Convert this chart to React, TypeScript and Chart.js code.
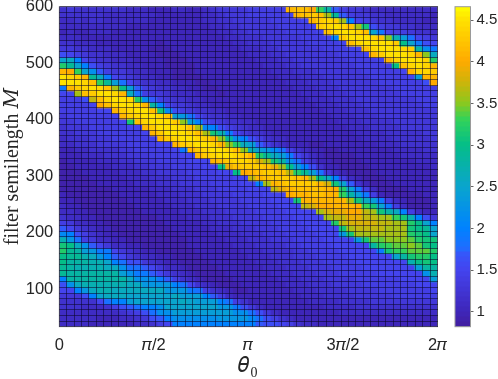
import React, { useEffect, useRef } from "react";
import { Chart, registerables } from "chart.js";

Chart.register(...registerables);

// Cell values in tenths; rows run from M = 600 (top) downward, columns from theta0 = 0 to 2*pi.
const cellTenths: number[][] = [
[12,13,12,12,12,12,12,12,12,11,11,11,10,10,10,11,11,10,10,11,12,13,13,13,13,14,14,14,14,14,41,42,42,40,33,28,17,14,13,13,12,11,11,11,11,11,11,11,11,11],
[12,12,12,12,12,12,11,11,11,11,11,11,11,10,10,10,10,10,10,11,11,12,13,13,13,14,14,14,14,14,15,41,42,43,42,36,29,17,14,13,13,12,12,11,11,11,11,11,11,10],
[11,11,12,11,12,12,11,11,11,11,11,11,10,10,10,10,10,10,10,11,11,12,12,13,13,13,13,13,14,14,14,14,15,41,43,44,43,36,20,15,14,13,12,12,11,11,11,11,10,10],
[11,11,11,11,11,11,11,11,11,10,10,10,10,10,10,10,10,10,10,10,11,11,12,12,13,13,13,13,13,14,14,14,14,15,43,44,45,44,42,36,31,16,14,13,13,12,12,11,11,11],
[10,11,10,10,11,11,11,10,10,10,10,10,10,10,10,10,10,10,10,10,10,11,11,12,12,13,13,13,13,13,14,14,14,14,15,42,44,45,45,44,42,25,19,15,14,14,13,12,12,11],
[11,11,11,10,10,10,10,10,10,10,10,10,10,10,10,10,10,10,10,10,10,10,11,11,12,12,12,13,13,13,13,13,14,14,14,15,20,43,45,45,45,44,42,35,27,24,18,15,14,13],
[12,12,11,11,11,10,10,10,10,10,10,10,10,9,10,10,10,10,10,10,10,10,10,11,11,12,12,12,13,13,13,13,13,14,14,14,14,15,42,44,45,45,45,45,43,30,25,19,16,15],
[13,13,12,12,11,11,11,10,10,10,10,10,9,9,9,10,10,10,10,10,10,10,10,10,11,11,11,12,12,13,13,13,13,13,13,14,14,14,15,15,42,44,45,45,45,44,43,28,22,19],
[16,15,14,13,12,12,11,11,11,10,10,10,10,9,9,9,10,10,10,10,10,10,10,10,10,11,11,11,12,12,13,13,13,13,13,13,13,14,14,14,15,41,43,45,45,45,44,41,35,26],
[25,26,20,15,13,12,12,11,11,11,10,10,10,10,9,9,9,10,10,10,10,10,10,10,10,10,11,11,11,12,12,13,13,13,13,13,13,13,14,14,14,14,15,41,44,45,45,45,44,32],
[32,29,25,20,16,14,13,12,12,11,11,10,10,10,9,9,9,9,10,10,10,10,10,10,10,10,10,11,11,11,12,12,13,13,13,13,13,13,13,14,14,14,14,14,30,42,44,45,44,41],
[41,40,33,25,22,17,14,13,13,12,11,11,10,10,10,9,9,9,10,10,10,10,10,10,10,10,10,10,11,11,11,12,12,12,13,13,13,13,13,13,14,14,14,14,14,15,41,44,44,43],
[45,44,43,41,29,26,19,15,14,13,12,11,11,10,10,9,9,9,9,10,10,10,10,10,10,10,10,10,10,11,11,11,12,12,12,13,13,13,13,13,13,14,14,14,14,14,15,24,41,41],
[45,45,45,44,42,33,29,24,18,15,13,12,12,11,11,10,10,10,9,9,10,10,10,10,10,10,10,10,10,10,11,11,11,12,12,12,13,13,13,13,13,13,14,14,14,14,14,14,16,40],
[19,41,43,44,45,44,42,36,30,24,17,14,13,12,12,11,11,10,10,9,9,10,10,10,10,10,10,10,10,10,10,11,11,11,12,12,12,13,13,13,13,13,13,13,14,14,14,14,14,14],
[15,15,36,42,43,45,45,44,41,26,18,14,13,13,12,11,11,11,10,10,10,9,10,10,10,10,10,10,10,10,10,10,11,11,11,12,12,12,13,13,13,13,13,13,13,14,14,14,14,14],
[14,14,14,16,37,42,44,45,45,44,32,22,17,14,13,12,12,11,11,10,10,10,10,10,10,10,10,10,10,10,10,10,10,11,11,11,12,12,12,13,13,13,13,13,13,13,13,14,14,14],
[14,14,14,14,15,40,42,44,45,45,44,41,28,20,15,13,13,12,11,11,10,10,10,10,10,10,10,10,10,10,10,10,10,10,11,11,11,12,12,12,13,13,13,13,13,13,13,13,14,14],
[14,14,14,14,14,15,15,41,43,44,45,45,42,31,21,16,14,13,12,12,11,11,10,10,10,10,10,10,10,10,10,10,10,10,10,11,11,11,12,12,12,13,13,13,13,13,13,13,13,13],
[13,14,14,14,14,14,14,15,41,43,44,45,45,44,42,24,23,18,15,13,12,12,11,11,10,10,10,10,10,10,10,10,10,10,10,10,11,11,11,12,12,12,13,13,13,13,13,13,13,13],
[13,13,14,14,14,14,14,14,15,31,42,44,45,45,45,43,35,24,20,16,14,13,12,12,11,11,10,10,10,10,10,10,10,10,10,10,10,11,11,11,12,12,12,12,13,13,13,13,13,13],
[12,13,13,13,14,14,14,14,14,15,15,41,43,45,45,45,44,42,36,21,20,16,14,13,12,11,11,10,10,10,10,10,10,10,10,10,10,10,11,11,11,12,12,12,12,13,13,13,13,13],
[12,12,13,13,13,14,14,14,14,14,14,15,41,43,45,45,45,44,42,36,31,27,19,15,13,12,12,11,10,10,10,10,10,10,10,10,10,10,10,11,11,11,11,12,12,12,12,12,13,13],
[11,12,12,12,13,13,13,14,14,14,14,14,15,41,43,44,45,45,44,43,41,35,29,22,20,16,14,12,11,11,10,10,10,10,10,10,10,10,10,10,11,11,11,11,12,12,12,12,12,13],
[11,11,12,12,12,13,13,13,13,14,14,14,14,15,15,41,43,44,45,45,44,41,35,32,26,24,17,14,12,11,10,10,10,9,9,10,10,10,10,10,10,10,11,11,11,12,12,12,12,12],
[10,10,11,11,12,12,12,12,13,13,14,14,14,14,14,15,19,41,43,44,45,45,44,42,35,27,24,23,21,18,14,12,11,10,10,9,9,10,10,10,10,10,10,10,11,11,11,11,12,12],
[10,10,10,11,11,11,12,12,12,13,13,13,14,14,14,14,15,15,41,43,44,45,45,44,43,41,32,29,26,24,19,15,13,11,10,9,9,9,9,10,10,10,10,10,10,11,11,11,11,11],
[9,10,10,10,10,11,11,11,12,12,13,13,13,14,14,14,14,15,15,15,41,42,43,44,44,43,38,36,31,28,22,18,14,12,10,10,9,9,9,9,10,10,10,10,10,10,10,11,11,11],
[9,9,10,10,10,10,10,11,11,11,12,12,13,13,13,14,14,14,14,15,15,30,39,42,43,43,43,42,39,36,30,24,20,16,12,10,10,9,9,9,9,10,10,10,10,10,10,10,10,11],
[9,9,9,10,10,10,10,10,11,11,11,12,12,13,13,13,13,14,14,14,14,15,15,30,40,41,42,43,43,42,37,32,29,24,18,13,11,10,9,9,9,9,10,10,10,10,10,10,10,10],
[9,9,9,9,10,10,10,10,10,11,11,11,12,12,12,13,13,13,14,14,14,14,14,15,15,37,41,42,43,43,43,42,41,36,30,26,20,14,11,10,9,9,9,10,10,10,10,10,10,10],
[9,9,9,9,9,10,10,10,10,10,11,11,11,12,12,12,13,13,13,13,14,14,14,14,15,15,20,36,41,42,43,43,43,43,41,38,31,25,17,12,10,9,9,9,10,10,10,10,10,10],
[9,9,9,9,9,9,9,10,10,10,10,10,11,11,11,12,12,12,13,13,13,14,14,14,14,15,15,15,37,39,41,42,42,42,42,41,40,32,25,19,14,11,9,9,9,9,10,10,10,10],
[10,9,9,9,9,9,9,9,10,10,10,10,10,11,11,11,12,12,12,13,13,13,13,14,14,14,14,15,15,15,40,41,41,42,42,41,41,33,28,24,19,14,10,9,9,9,9,9,10,10],
[10,10,9,9,9,9,9,9,9,10,10,10,10,10,11,11,11,12,12,12,13,13,13,13,14,14,14,14,15,15,15,31,41,41,41,41,41,41,36,31,26,24,19,14,11,10,9,9,9,10],
[11,10,10,9,9,9,9,9,9,9,10,10,10,10,10,11,11,11,12,12,12,13,13,13,13,14,14,14,14,15,15,15,37,38,40,40,41,41,41,40,33,31,25,19,14,11,9,9,9,10],
[11,11,10,10,9,9,9,9,9,9,9,10,10,10,10,10,11,11,11,12,12,12,13,13,13,13,14,14,14,14,15,15,15,15,36,38,39,39,40,40,37,36,31,28,26,20,14,11,10,10],
[12,11,11,10,10,9,9,9,9,9,9,9,9,10,10,10,10,11,11,11,12,12,12,13,13,13,13,14,14,14,14,15,15,15,15,36,37,37,39,39,37,37,36,36,33,31,27,20,16,13],
[14,13,11,11,10,10,9,9,9,9,9,9,9,9,10,10,10,10,10,11,11,12,12,12,13,13,13,13,14,14,14,14,15,15,15,15,32,37,38,38,38,38,37,37,36,36,32,30,25,20],
[17,15,13,12,11,10,10,9,9,9,9,9,9,9,9,10,10,10,10,10,11,11,11,12,12,12,13,13,13,14,14,14,14,15,15,15,15,31,36,37,37,37,37,36,36,36,31,30,29,25],
[21,20,16,14,12,11,10,10,9,9,9,9,9,9,9,9,10,10,10,10,10,11,11,11,12,12,12,13,13,13,14,14,14,14,15,15,15,23,31,36,36,36,36,36,36,36,32,31,30,25],
[27,23,18,14,13,11,11,10,10,9,9,9,9,9,9,9,9,10,10,10,10,10,11,11,11,12,12,12,13,13,13,14,14,14,14,15,15,15,15,23,31,34,34,35,35,35,34,32,31,31],
[31,30,26,22,17,15,13,11,11,10,10,9,9,9,9,9,9,10,10,10,10,10,10,11,11,11,12,12,12,12,13,13,14,14,14,14,15,15,15,15,15,28,32,33,34,34,35,34,31,30],
[32,29,28,24,23,19,19,15,13,12,11,10,10,9,9,9,9,9,10,10,10,10,10,10,11,11,11,12,12,12,12,13,13,14,14,14,14,15,15,15,15,15,19,31,33,33,34,34,34,32],
[30,29,29,27,26,23,20,17,15,13,12,11,11,10,10,9,9,9,9,10,10,10,10,10,10,11,11,11,12,12,12,13,13,13,14,14,14,14,15,15,15,15,15,15,25,28,31,32,32,30],
[30,28,28,28,27,27,25,20,18,16,16,13,12,11,10,10,9,9,9,9,10,10,10,10,10,10,11,11,11,12,12,12,13,13,13,14,14,14,14,15,15,15,15,15,15,15,27,30,31,30],
[29,28,27,27,27,27,26,26,22,18,18,17,15,13,11,11,10,9,9,9,9,10,10,10,10,10,10,11,11,11,12,12,12,13,13,13,14,14,14,14,15,15,15,15,15,15,15,24,28,28],
[29,28,28,28,28,28,28,28,24,22,19,19,17,15,13,12,11,10,9,9,9,9,10,10,10,10,10,10,11,11,11,12,12,12,13,13,13,14,14,14,14,14,15,15,15,15,15,15,22,27],
[20,28,28,28,28,28,28,28,28,26,22,22,22,19,17,14,12,11,10,9,9,9,9,10,10,10,10,10,10,11,11,11,12,12,12,13,13,13,13,14,14,14,14,14,14,15,15,15,15,24],
[16,22,26,27,27,27,27,27,27,26,26,23,23,23,23,20,18,15,12,11,10,9,9,9,10,10,10,10,10,10,11,11,11,12,12,12,13,13,13,13,14,14,14,14,14,14,14,15,15,15],
[15,15,20,23,26,27,27,26,26,26,26,26,26,26,23,23,23,19,18,14,12,11,10,9,9,10,10,10,10,10,10,11,11,11,12,12,12,12,13,13,13,13,14,14,14,14,14,14,14,15],
[13,13,13,16,20,25,26,26,26,25,25,25,25,25,25,26,24,24,24,20,17,14,11,10,10,10,10,10,10,10,10,10,11,11,11,12,12,12,12,13,13,13,13,13,14,14,14,14,14,14],
[12,12,12,12,12,15,18,20,20,24,25,25,25,25,25,25,26,25,24,24,24,20,18,14,12,10,10,10,10,10,10,10,10,11,11,11,11,12,12,12,12,13,13,13,13,13,13,13,13,13],
[12,12,12,11,11,11,12,14,16,17,18,20,20,22,25,25,25,25,25,25,25,23,23,19,16,13,11,10,10,10,10,10,10,10,10,11,11,11,11,12,12,12,12,12,12,12,12,12,12,12],
[11,11,11,11,11,11,11,11,12,13,14,16,18,22,22,24,24,24,24,24,24,24,24,22,22,18,16,13,11,10,10,10,10,10,10,10,10,11,11,11,11,11,11,11,11,11,11,11,11,11],
[11,11,11,11,11,10,10,10,11,11,12,13,16,17,20,22,22,22,22,22,22,23,23,23,23,21,18,16,14,12,11,10,10,10,10,10,10,10,10,10,10,10,10,10,10,10,10,10,10,10],
[11,11,11,11,10,10,10,10,10,10,11,11,12,14,15,20,20,20,20,20,20,20,20,20,20,20,17,16,16,15,14,12,11,11,10,10,10,10,10,10,10,10,10,10,10,10,10,10,10,10],
];

const xTickLabels = ["0", "\u{1D70B}/2", "\u{1D70B}", "3\u{1D70B}/2", "2\u{1D70B}"];
const xTickValues = [0, Math.PI / 2, Math.PI, (3 * Math.PI) / 2, 2 * Math.PI];
const yTickValues = [100, 200, 300, 400, 500, 600];
const colorTickValues = [1, 1.5, 2, 2.5, 3, 3.5, 4, 4.5];
const M_TOP = 600;
const M_BOTTOM = 33.3;
const COLOR_MIN = 0.82;
const COLOR_MAX = 4.66;

const colorStops: [number, number, number, number][] = [
  [0, 65, 30, 160],
  [0.047, 62, 38, 185],
  [0.177, 68, 68, 238],
  [0.225, 55, 85, 250],
  [0.245, 30, 110, 255],
  [0.307, 0, 130, 255],
  [0.4375, 10, 165, 205],
  [0.568, 5, 190, 135],
  [0.646, 50, 210, 90],
  [0.698, 140, 200, 30],
  [0.763, 205, 180, 10],
  [0.828, 255, 170, 0],
  [0.958, 255, 225, 0],
  [1, 255, 255, 0],
];

function colorFor(v: number): string {
  const t = Math.min(1, Math.max(0, (v - COLOR_MIN) / (COLOR_MAX - COLOR_MIN)));
  for (let i = 1; i < colorStops.length; i++) {
    const a = colorStops[i - 1];
    const b = colorStops[i];
    if (t <= b[0]) {
      const f = (t - a[0]) / (b[0] - a[0]);
      return `rgb(${Math.round(a[1] + (b[1] - a[1]) * f)},${Math.round(a[2] + (b[2] - a[2]) * f)},${Math.round(a[3] + (b[3] - a[3]) * f)})`;
    }
  }
  return "rgb(255,255,0)";
}

const SANS = "'Liberation Sans', Arial, sans-serif";
const SERIF = "'Liberation Serif', 'DejaVu Serif', serif";
const TEXT = "#262626";

const frame = (color: string) => ({
  id: "frame",
  afterDatasetsDraw(chart: any) {
    const { left, top, width, height } = chart.chartArea;
    const { ctx } = chart;
    ctx.save();
    ctx.strokeStyle = color;
    ctx.lineWidth = 1;
    ctx.strokeRect(left, top, width, height);
    ctx.restore();
  },
});

const thetaLabel = {
  id: "thetaLabel",
  afterDraw(chart: any) {
    const { ctx, chartArea } = chart;
    const cx = (chartArea.left + chartArea.right) / 2;
    ctx.save();
    ctx.fillStyle = TEXT;
    ctx.textBaseline = "alphabetic";
    ctx.textAlign = "left";
    ctx.font = `22px ${SERIF}`;
    ctx.fillText("\u{1D703}", cx - 10, 372);
    ctx.font = `14px ${SERIF}`;
    ctx.fillText("0", cx + 2, 377);
    ctx.restore();
  },
};

const noPadding = (s: any) => {
  s.paddingTop = 0;
  s.paddingBottom = 0;
  s.paddingLeft = 0;
  s.paddingRight = 0;
};

export default function App() {
  const mainRef = useRef<HTMLCanvasElement>(null);
  const barRef = useRef<HTMLCanvasElement>(null);

  useEffect(() => {
    const nRows = cellTenths.length;
    const nCols = cellTenths[0].length;
    const rowStep = (M_TOP - M_BOTTOM) / nRows;
    const colStep = (2 * Math.PI) / nCols;

    const datasets = cellTenths.map((row, r) => ({
      data: row.map((_, c) => ({
        x: (c + 0.5) * colStep,
        y: [M_TOP - (r + 1) * rowStep, M_TOP - r * rowStep],
      })),
      backgroundColor: row.map((v) => colorFor(v / 10)),
      borderWidth: 0,
      barPercentage: 1,
      categoryPercentage: 1,
      grouped: false,
      inflateAmount: 0.4,
    }));

    const hiddenAxis = (n: number, lo: number, step: number, min: number, max: number, position: string) => ({
      type: "linear",
      position,
      min,
      max,
      border: { display: false },
      grid: { display: true, z: 1, drawTicks: false, color: "rgba(10,5,40,0.55)", lineWidth: 1 },
      ticks: { display: false, autoSkip: false },
      afterBuildTicks: (s: any) => {
        s.ticks = Array.from({ length: n + 1 }, (_, i) => ({ value: lo + i * step }));
      },
      afterFit: (s: any) => {
        noPadding(s);
        if (position === "top") s.height = 0;
        else s.width = 0;
      },
    });

    const main = new Chart(mainRef.current as HTMLCanvasElement, {
      type: "bar",
      data: { datasets: datasets as any },
      plugins: [frame("rgba(150,150,150,0.8)"), thetaLabel],
      options: {
        animation: false,
        responsive: false,
        events: [],
        layout: { padding: { left: 0, right: 60.5, top: 6.7, bottom: 0 } },
        plugins: { legend: { display: false }, tooltip: { enabled: false } },
        scales: {
          x: {
            type: "linear",
            offset: false,
            min: 0,
            max: 2 * Math.PI,
            grid: { display: false, drawTicks: false },
            border: { display: false },
            afterBuildTicks: (s: any) => {
              s.ticks = xTickValues.map((value) => ({ value }));
            },
            afterFit: (s: any) => {
              noPadding(s);
              s.height = 52.3;
            },
            ticks: {
              autoSkip: false,
              maxRotation: 0,
              padding: 9,
              color: TEXT,
              font: { family: SANS, size: 16.5 },
              callback: (v: any) => {
                const i = xTickValues.findIndex((t) => Math.abs(t - Number(v)) < 1e-6);
                return i >= 0 ? xTickLabels[i] : "";
              },
            },
          },
          y: {
            type: "linear",
            min: M_BOTTOM,
            max: M_TOP,
            grid: { display: false, drawTicks: false },
            border: { display: false },
            afterBuildTicks: (s: any) => {
              s.ticks = yTickValues.map((value) => ({ value }));
            },
            afterFit: (s: any) => {
              noPadding(s);
              s.width = 59.3;
            },
            ticks: {
              autoSkip: false,
              padding: 6,
              color: TEXT,
              font: { family: SANS, size: 16.5 },
            },
            title: {
              display: true,
              text: "filter semilength \u{1D440}",
              color: TEXT,
              font: { family: SERIF, size: 20 },
              padding: { top: 1, bottom: 0 },
            },
          },
          xCells: hiddenAxis(nCols, 0, colStep, 0, 2 * Math.PI, "top"),
          yCells: hiddenAxis(nRows, M_BOTTOM, rowStep, M_BOTTOM, M_TOP, "right"),
        },
      } as any,
    });

    const levelCount = 64;
    const levelStep = (COLOR_MAX - COLOR_MIN) / levelCount;
    const levels = Array.from({ length: levelCount }, (_, i) => COLOR_MIN + i * levelStep);
    const bar = new Chart(barRef.current as HTMLCanvasElement, {
      type: "bar",
      data: {
        labels: ["c"],
        datasets: levels.map((lo) => ({
          data: [[lo, lo + levelStep]],
          backgroundColor: colorFor(lo + levelStep / 2),
          barPercentage: 1,
          categoryPercentage: 1,
          grouped: false,
          inflateAmount: 0.3,
        })) as any,
      },
      plugins: [frame("#9a9a9a")],
      options: {
        animation: false,
        responsive: false,
        events: [],
        layout: { padding: { left: 455, right: 0, top: 6.7, bottom: 52.3 } },
        plugins: { legend: { display: false }, tooltip: { enabled: false } },
        scales: {
          x: { display: false },
          y: {
            position: "right",
            min: COLOR_MIN,
            max: COLOR_MAX,
            grid: { drawOnChartArea: false, drawTicks: true, tickLength: 3, color: "#666" },
            border: { display: false },
            afterBuildTicks: (s: any) => {
              s.ticks = colorTickValues.map((value) => ({ value }));
            },
            afterFit: (s: any) => {
              noPadding(s);
              s.width = 498 - 470.5;
            },
            ticks: {
              autoSkip: false,
              padding: 3,
              color: TEXT,
              font: { family: SANS, size: 15 },
              callback: (v: any) => String(v),
            },
          },
        },
      } as any,
    });

    return () => {
      main.destroy();
      bar.destroy();
    };
  }, []);

  const style: React.CSSProperties = { position: "fixed", left: 0, top: 0, width: 498, height: 379 };
  return (
    <div style={{ position: "fixed", left: 0, top: 0, width: 498, height: 379, background: "#fff" }}>
      <canvas ref={mainRef} width={498} height={379} style={style} />
      <canvas ref={barRef} width={498} height={379} style={style} />
    </div>
  );
}
